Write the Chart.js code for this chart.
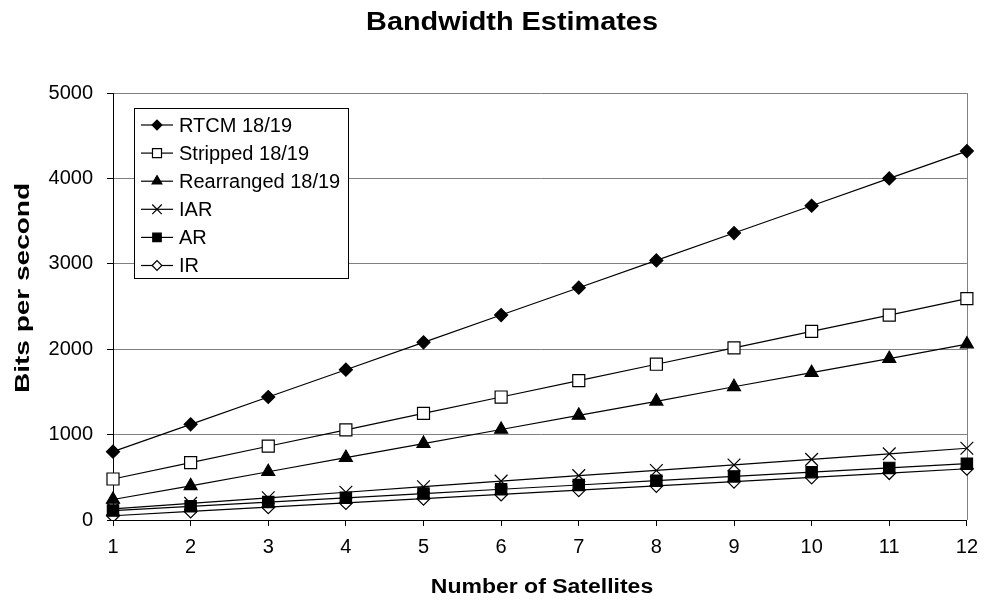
<!DOCTYPE html>
<html>
<head>
<meta charset="utf-8">
<title>Bandwidth Estimates</title>
<script src="https://cdn.jsdelivr.net/npm/chart.js@4.4.0/dist/chart.umd.min.js"></script>
<style>
  html, body { margin: 0; padding: 0; background: #fff; }
  #wrap { width: 987px; height: 604px; }
</style>
</head>
<body>
<div id="wrap"><canvas id="bandwidthChart" width="987" height="604"></canvas></div>
<script>
// satellites in view vs. bits per second for each message format
const satellites = ['1', '2', '3', '4', '5', '6', '7', '8', '9', '10', '11', '12'];
const rtcm = [800, 1120, 1440, 1760, 2080, 2400, 2720, 3040, 3360, 3680, 4000, 4320];
const stripped = [480, 672, 864, 1056, 1248, 1440, 1632, 1824, 2016, 2208, 2400, 2592];
const rearranged = [240, 400, 565, 730, 895, 1060, 1225, 1390, 1560, 1725, 1890, 2060];
const iar = [130, 195, 260, 325, 390, 455, 520, 580, 645, 710, 775, 840];
const ar = [110, 160, 210, 260, 310, 360, 410, 460, 510, 560, 610, 660];
const ir = [50, 100, 150, 200, 250, 300, 350, 400, 450, 500, 550, 600];
const yTicks = [0, 1000, 2000, 3000, 4000, 5000];

const FONT = '"Liberation Sans", Arial, Helvetica, sans-serif';

function series(label, data, style, fill, radius) {
  return {
    label: label,
    data: data,
    borderColor: '#000',
    borderWidth: 1.2,
    pointStyle: style,
    pointRadius: radius,
    pointBorderColor: '#000',
    pointBackgroundColor: fill,
    pointBorderWidth: 1.2,
    tension: 0,
    fill: false
  };
}

// stretched text helper (the old chart fonts are wider than normal)
function drawStretched(ctx, text, x, y, font, sx, angle) {
  ctx.save();
  ctx.translate(x, y);
  ctx.rotate(angle || 0);
  ctx.scale(sx, 1);
  ctx.font = font;
  ctx.fillStyle = '#000';
  ctx.textAlign = 'center';
  ctx.textBaseline = 'middle';
  ctx.fillText(text, 0, 0);
  ctx.restore();
}

// chart title and axis titles
const titles = {
  id: 'titles',
  afterDraw(chart) {
    const ctx = chart.ctx;
    drawStretched(ctx, 'Bandwidth Estimates', 512, 23, 'bold 26px ' + FONT, 1.11);
    drawStretched(ctx, 'Number of Satellites', 542, 587, 'bold 20px ' + FONT, 1.15);
    drawStretched(ctx, 'Bits per second', 23, 288, 'bold 20px ' + FONT, 1.4, -Math.PI / 2);
  }
};

// legend box drawn inside the plot, top-left
const boxLegend = {
  id: 'boxLegend',
  afterDraw(chart) {
    const ctx = chart.ctx;
    const x0 = 134, y0 = 108, w = 214, h = 170;
    ctx.save();
    ctx.fillStyle = '#fff';
    ctx.fillRect(x0, y0, w, h);
    ctx.strokeStyle = '#000';
    ctx.lineWidth = 1;
    ctx.strokeRect(x0 + 0.5, y0 + 0.5, w, h);
    ctx.font = '20px ' + FONT;
    ctx.textBaseline = 'middle';
    chart.data.datasets.forEach((ds, i) => {
      const cy = 125 + i * 28.1;
      ctx.beginPath();
      ctx.moveTo(141, cy);
      ctx.lineTo(173, cy);
      ctx.lineWidth = 1.2;
      ctx.strokeStyle = '#000';
      ctx.stroke();
      ctx.fillStyle = ds.pointBackgroundColor;
      Chart.helpers.drawPoint(ctx, {
        pointStyle: ds.pointStyle,
        radius: ds.pointRadius * 0.75,
        rotation: 0,
        borderWidth: 1
      }, 157, cy);
      ctx.fillStyle = '#000';
      ctx.fillText(ds.label, 179, cy + 1);
    });
    ctx.restore();
  }
};

// grey frame line on the right side of the plot
const plotFrame = {
  id: 'plotFrame',
  beforeDatasetsDraw(chart) {
    const { ctx, chartArea } = chart;
    ctx.save();
    ctx.strokeStyle = '#808080';
    ctx.lineWidth = 1;
    ctx.beginPath();
    ctx.moveTo(Math.round(chartArea.right) + 0.5, chartArea.top);
    ctx.lineTo(Math.round(chartArea.right) + 0.5, chartArea.bottom);
    ctx.stroke();
    ctx.restore();
  }
};

const ctx = document.getElementById('bandwidthChart');
new Chart(ctx, {
  type: 'line',
  data: {
    labels: satellites,
    datasets: [
      series('RTCM 18/19', rtcm, 'rectRot', '#000', 6.5),
      series('Stripped 18/19', stripped, 'rect', '#fff', 8.5),
      series('Rearranged 18/19', rearranged, 'triangle', '#000', 7.5),
      series('IAR', iar, 'crossRot', '#000', 9),
      series('AR', ar, 'rect', '#000', 8),
      series('IR', ir, 'rectRot', '#fff', 6.5)
    ]
  },
  options: {
    responsive: false,
    animation: false,
    layout: { padding: { left: 0, right: 19, top: 93, bottom: 0 } },
    plugins: {
      legend: { display: false },
      tooltip: { enabled: false },
      title: { display: false }
    },
    scales: {
      x: {
        type: 'category',
        offset: false,
        afterFit(scale) { scale.height = 84; },
        grid: { display: true, drawOnChartArea: false, drawTicks: true, tickLength: 6, tickColor: '#000', offset: false },
        border: { color: '#000', width: 1 },
        ticks: { color: '#000', padding: 9, font: { family: FONT, size: 20 }, maxRotation: 0, autoSkip: false }
      },
      y: {
        min: 0,
        max: 5000,
        afterFit(scale) { scale.width = 113; },
        afterBuildTicks(scale) { scale.ticks = yTicks.map(v => ({ value: v })); },
        grid: { color: '#808080', lineWidth: 1, drawTicks: true, tickLength: 6, tickColor: '#000' },
        border: { color: '#000', width: 1 },
        ticks: {
          color: '#000',
          padding: 14,
          font: { family: FONT, size: 20 },
          callback: v => String(v)
        }
      }
    }
  },
  plugins: [plotFrame, boxLegend, titles]
});
</script>
</body>
</html>
